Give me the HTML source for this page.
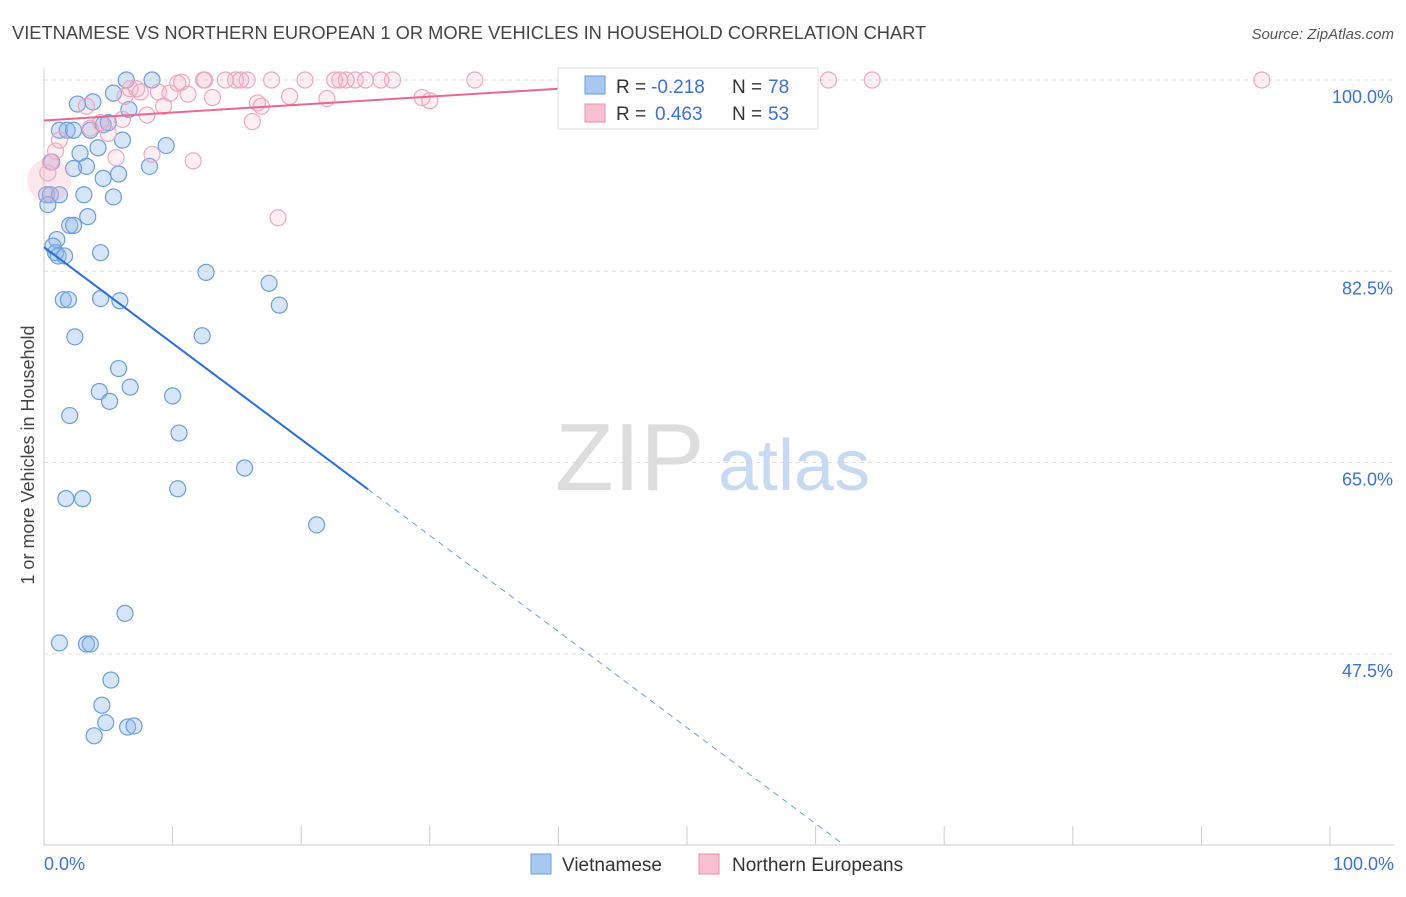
<!DOCTYPE html>
<html><head><meta charset="utf-8"><style>
body{margin:0;background:#fff;font-family:"Liberation Sans",sans-serif;}
svg text{font-family:"Liberation Sans",sans-serif;}
</style></head><body>
<svg width="1406" height="892" viewBox="0 0 1406 892">
<text x="12" y="39" font-size="18.3" fill="#444">VIETNAMESE VS NORTHERN EUROPEAN 1 OR MORE VEHICLES IN HOUSEHOLD CORRELATION CHART</text>
<text x="1394" y="39" font-size="15" fill="#555" text-anchor="end" font-style="italic">Source: ZipAtlas.com</text>
<g id="grid"></g>
<text x="555" y="490" font-size="96" fill="#ddd" font-family="Liberation Serif">ZIP</text>
<text x="718" y="490" font-size="72" fill="#c8daf2">atlas</text>
<g id="marks"></g>
<text x="0" y="0" transform="translate(34,455) rotate(-90)" font-size="18" fill="#444" text-anchor="middle">1 or more Vehicles in Household</text>
<text x="44" y="870" font-size="18" fill="#3a72d8">0.0%</text>
<text x="1394" y="870" font-size="18" fill="#3a72d8" text-anchor="end">100.0%</text>
<g>
<rect x="558" y="68" width="260" height="61" fill="#fff" stroke="#ddd"/>
<rect x="585" y="76" width="20" height="18" fill="#a8c8f0" stroke="#6a9ee0"/>
<text x="616" y="93" font-size="19" fill="#333">R = </text><text x="651" y="93" font-size="19" fill="#3a72d8">-0.218</text>
<text x="732" y="93" font-size="19" fill="#333">N = </text><text x="768" y="93" font-size="19" fill="#3a72d8">78</text>
<rect x="585" y="104" width="20" height="18" fill="#f8c0d0" stroke="#e890a8"/>
<text x="616" y="120" font-size="19" fill="#333">R = </text><text x="655" y="120" font-size="19" fill="#3a72d8">0.463</text>
<text x="732" y="120" font-size="19" fill="#333">N = </text><text x="768" y="120" font-size="19" fill="#3a72d8">53</text>
</g>
<g>
<rect x="531" y="854" width="20" height="20" fill="#a8c8f0" stroke="#6a9ee0"/>
<text x="562" y="871" font-size="19" fill="#333">Vietnamese</text>
<rect x="699" y="854" width="20" height="20" fill="#f8c0d0" stroke="#e890a8"/>
<text x="732" y="871" font-size="19" fill="#333">Northern Europeans</text>
</g>
</svg>
<script>
const yTicks=[100,82.5,65,47.5];
const yTickLabels=["100.0%","82.5%","65.0%","47.5%"];
const xTicks=[0,10,20,30,40,50,60,70,80,90,100];
const blueX=[6.4,8.4,5.4,3.8,2.6,6.6,1.2,1.8,2.3,3.6,4.6,5.0,6.1,2.8,4.2,9.5,0.6,3.3,2.3,5.8,4.6,8.2,3.1,5.4,0.2,0.5,1.2,0.3,3.4,2.0,2.3,1.0,0.7,0.9,1.1,1.6,4.4,12.6,17.5,18.3,1.5,1.9,4.4,5.9,2.4,12.3,5.8,4.3,6.7,10.0,5.1,2.0,10.5,15.6,10.4,1.7,3.0,21.2,6.3,1.2,3.3,3.6,5.2,4.5,4.8,3.9,6.5,7.0];
const blueY=[100,100,98.8,98.0,97.8,97.3,95.4,95.4,95.4,95.4,95.9,96.1,94.5,93.3,93.8,94.0,92.5,92.1,91.9,91.4,91.0,92.1,89.5,89.3,89.5,89.5,89.5,88.6,87.5,86.7,86.7,85.4,84.8,84.2,83.9,83.9,84.2,82.4,81.4,79.4,79.9,79.9,80.0,79.8,76.5,76.6,73.6,71.5,71.9,71.1,70.6,69.3,67.7,64.5,62.6,61.7,61.7,59.3,51.2,48.5,48.4,48.4,45.1,42.8,41.2,40.0,40.8,40.9];
const pinkX=[0.3,0.5,0.9,1.2,3.3,3.6,4.4,5.0,5.6,6.1,6.3,6.7,7.2,7.5,8.0,8.4,8.9,9.3,9.8,10.4,10.7,11.2,11.6,12.4,12.5,13.1,14.1,14.9,15.3,15.8,16.2,16.6,16.9,17.7,18.2,19.1,20.3,22.0,22.6,23.0,23.5,24.2,25.0,26.2,27.1,29.4,30.0,33.5,40.9,61.0,64.4,94.7];
const pinkY=[91.5,92.5,93.5,94.5,97.6,95.6,96.1,95.1,92.9,96.4,98.5,99.2,99.2,98.9,96.8,93.2,98.9,97.6,98.8,99.7,99.8,98.7,92.6,100,100,98.4,100,100,100,100,96.2,97.9,97.6,100,87.4,98.5,100,98.3,100,100,100,100,100,100,100,98.4,98.1,100,100,100,100,100];
const bigPinkX=[0.4], bigPinkY=[90.8];
const blueLine=[0,84.7,100,-3.2], pinkLine=[0,96.3,51,100];
const sx=v=>44+v*12.86, sy=v=>80+(100-v)*10.93;
const NS="http://www.w3.org/2000/svg";
const grid=document.getElementById('grid'), marks=document.getElementById('marks');
function mk(tag,at,parent){const e=document.createElementNS(NS,tag);for(const k in at)e.setAttribute(k,at[k]);parent.appendChild(e);return e;}
mk('line',{x1:44,y1:68,x2:44,y2:845,stroke:'#ccc'},grid);
mk('line',{x1:44,y1:845,x2:1394,y2:845,stroke:'#ccc'},grid);
yTicks.forEach((t,i)=>{
 const l=mk('line',{x1:44,y1:sy(t),x2:1394,y2:sy(t),stroke:'#ddd','stroke-dasharray':'4,4'},grid);
 
 
 const tx=mk('text',{x:1393,y:sy(t)+23,'font-size':18,fill:'#3a72d8','text-anchor':'end'},grid);
 tx.textContent=yTickLabels[i];
 
 
});
xTicks.forEach(t=>{
 const l=mk('line',{x1:sx(t),y1:826,x2:sx(t),y2:845,stroke:'#ccc'},grid);
 
 
});
blueX.forEach((x,i)=>{
 const c=mk('circle',{cx:sx(x),cy:sy(blueY[i]),r:8,fill:'rgba(140,180,235,0.35)',stroke:'#6a9ee0','stroke-width':1.2},marks);
 
 
});
pinkX.forEach((x,i)=>{
 const c=mk('circle',{cx:sx(x),cy:sy(pinkY[i]),r:8,fill:'rgba(245,175,195,0.2)',stroke:'#eea8be','stroke-width':1.2},marks);
 
 
});
bigPinkX.forEach((x,i)=>{
 const c=mk('circle',{cx:sx(x),cy:sy(bigPinkY[i]),r:22,fill:'rgba(245,175,195,0.3)',stroke:'none'},marks);
 
 
});
const bAt=x=>blueLine[1]+(blueLine[3]-blueLine[1])*(x-blueLine[0])/(blueLine[2]-blueLine[0]);
const bl=mk('line',{x1:sx(0),y1:sy(bAt(0)),x2:sx(25.2),y2:sy(bAt(25.2)),stroke:'#2a6fd8','stroke-width':2},marks);


const bd=mk('line',{x1:sx(25.2),y1:sy(bAt(25.2)),x2:sx(61.9),y2:sy(bAt(61.9)),stroke:'#6a9ee0','stroke-width':1,'stroke-dasharray':'6,5'},marks);


const pl=mk('line',{x1:sx(pinkLine[0]),y1:sy(pinkLine[1]),x2:sx(pinkLine[2]),y2:sy(pinkLine[3]),stroke:'#e86890','stroke-width':2},marks);


</script>
</body></html>
